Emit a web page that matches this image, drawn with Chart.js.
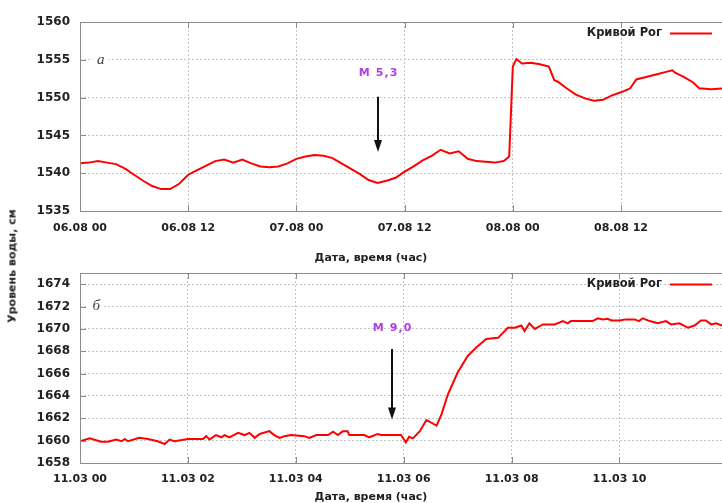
<!DOCTYPE html>
<html><head><meta charset="utf-8">
<script src="https://cdn.jsdelivr.net/npm/chart.js@4.4.1/dist/chart.umd.min.js"></script>
<style>
html,body{margin:0;padding:0;background:#fff;}
#wrap{position:relative;width:722px;height:503px;overflow:hidden;background:#fff;}
.cv{position:absolute;left:0;}
.t{position:absolute;font:bold 11px "DejaVu Sans",sans-serif;color:#222;white-space:nowrap;z-index:2;}
</style></head><body>
<div id="wrap">
<canvas id="a" class="cv" width="722" height="240" style="top:0"></canvas>
<canvas id="b" class="cv" width="722" height="263" style="top:240px"></canvas>
<div class="t" style="left:371px;top:257px;transform:translate(-50%,-50%)">Дата, время (час)</div>
<div class="t" style="left:371px;top:496px;transform:translate(-50%,-50%)">Дата, время (час)</div>
<div class="t" style="left:12px;top:266px;transform:translate(-50%,-50%) rotate(-90deg)">Уровень воды, см</div>
</div>
<script>
// ---- data ----
const seriesName = 'Кривой Рог';

// panel а: hours since 06.08 00
const topHours = [0,1,2,3,4,5,6,7,8,9,10,11,12,13,14,15,16,17,18,19,20,21,22,23,24,25,26,27,28,29,30,31,32,33,34,35,36,37,38,39,40,41,42,43,44,45,46,47,47.6,48.0,48.4,49,50,51,52,52.6,53,54,55,56,57,58,59,60,61,61.7,62,63,64,65,65.7,66,67,68,68.7,69,70,71.2];
const topLevels = [1541.3,1541.4,1541.6,1541.4,1541.2,1540.6,1539.8,1539.0,1538.3,1537.9,1537.9,1538.6,1539.8,1540.4,1541.0,1541.6,1541.8,1541.4,1541.8,1541.3,1540.9,1540.8,1540.9,1541.3,1541.9,1542.2,1542.4,1542.3,1542.0,1541.3,1540.6,1539.9,1539.1,1538.7,1539.0,1539.4,1540.2,1540.9,1541.7,1542.3,1543.1,1542.6,1542.9,1541.9,1541.6,1541.5,1541.4,1541.6,1542.2,1554.1,1555.1,1554.5,1554.6,1554.4,1554.1,1552.3,1552.1,1551.2,1550.4,1549.9,1549.6,1549.7,1550.3,1550.7,1551.2,1552.4,1552.5,1552.8,1553.1,1553.4,1553.6,1553.3,1552.7,1552.0,1551.2,1551.2,1551.1,1551.2];
const topTickHours = [0,12,24,36,48,60];
const topTickLabels = ['06.08 00','06.08 12','07.08 00','07.08 12','08.08 00','08.08 12'];
const topYTicks = [1535,1540,1545,1550,1555,1560];

// panel б: hours since 11.03 00
const bottomHours = [0,0.18,0.39,0.52,0.67,0.77,0.83,0.89,1.1,1.26,1.44,1.57,1.66,1.75,2.0,2.28,2.34,2.4,2.52,2.62,2.68,2.77,2.93,3.05,3.14,3.24,3.33,3.51,3.6,3.7,3.79,3.91,4.16,4.25,4.38,4.6,4.69,4.78,4.87,4.96,4.99,5.27,5.36,5.52,5.58,5.95,6.04,6.1,6.17,6.3,6.42,6.61,6.7,6.82,7.0,7.19,7.35,7.53,7.75,7.93,8.06,8.18,8.24,8.33,8.43,8.58,8.8,8.95,9.04,9.1,9.5,9.6,9.69,9.78,9.85,10.0,10.12,10.28,10.36,10.43,10.56,10.71,10.86,10.96,11.11,11.27,11.39,11.51,11.6,11.7,11.79,11.9];
const bottomLevels = [1659.95,1660.2,1659.9,1659.9,1660.1,1659.95,1660.15,1659.95,1660.25,1660.15,1659.95,1659.7,1660.1,1659.95,1660.15,1660.15,1660.4,1660.1,1660.5,1660.3,1660.5,1660.3,1660.7,1660.5,1660.7,1660.25,1660.6,1660.85,1660.5,1660.25,1660.4,1660.5,1660.4,1660.25,1660.5,1660.5,1660.8,1660.5,1660.85,1660.85,1660.5,1660.5,1660.3,1660.6,1660.5,1660.5,1659.85,1660.35,1660.2,1660.85,1661.85,1661.35,1662.35,1664.15,1666.1,1667.6,1668.35,1669.1,1669.2,1670.1,1670.1,1670.3,1669.8,1670.5,1670.0,1670.4,1670.4,1670.7,1670.5,1670.7,1670.7,1670.95,1670.85,1670.9,1670.75,1670.75,1670.85,1670.85,1670.7,1670.95,1670.7,1670.5,1670.7,1670.4,1670.5,1670.1,1670.3,1670.75,1670.75,1670.4,1670.5,1670.3];
const bottomTickHours = [0,2,4,6,8,10];
const bottomTickLabels = ['11.03 00','11.03 02','11.03 04','11.03 06','11.03 08','11.03 10'];
const bottomYTicks = [1658,1660,1662,1664,1666,1668,1670,1672,1674];

// earthquake marks (data units)
const quakeTop = {text:'M 5,3', hour:33.0, textLevel:1553.3, fromLevel:1550.1, toLevel:1542.8};
const quakeBottom = {text:'M 9,0', hour:5.78, textLevel:1670.05, fromLevel:1668.2, toLevel:1661.9};

// ---- drawing ----
Chart.defaults.font.family = '"DejaVu Sans", sans-serif';
Chart.defaults.font.size = 11;
Chart.defaults.font.weight = 'bold';
Chart.defaults.color = '#222';

const decor = {
  id: 'decor',
  afterDatasetsDraw(chart, args, o) {
    const {ctx, chartArea: a, scales: {x, y}} = chart;
    ctx.save();
    // letter
    ctx.font = 'italic 15px "Liberation Serif", serif';
    ctx.textBaseline = 'middle'; ctx.textAlign = 'center';
    const lx = x.getPixelForValue(o.letterHour), ly = y.getPixelForValue(o.letterLevel);
    ctx.fillStyle = '#fff'; ctx.fillRect(lx - 8, ly - 3, 16, 6);
    ctx.fillStyle = '#444'; ctx.fillText(o.letter, lx, ly);
    // quake label + arrow
    const q = o.quake;
    const qx = Math.round(x.getPixelForValue(q.hour));
    ctx.font = 'bold 11px "DejaVu Sans", sans-serif';
    ctx.fillStyle = '#b43ce6';
    ctx.fillText(q.text.split('').join(String.fromCharCode(8202)), qx, y.getPixelForValue(q.textLevel));
    const y1 = y.getPixelForValue(q.fromLevel), y2 = y.getPixelForValue(q.toLevel);
    ctx.strokeStyle = '#111'; ctx.lineWidth = 2; ctx.setLineDash([]);
    ctx.beginPath(); ctx.moveTo(qx, y1); ctx.lineTo(qx, y2 - 10); ctx.stroke();
    ctx.fillStyle = '#111';
    ctx.beginPath(); ctx.moveTo(qx - 4, y2 - 12); ctx.lineTo(qx + 4, y2 - 12); ctx.lineTo(qx, y2); ctx.closePath(); ctx.fill();
    // frame
    ctx.strokeStyle = '#8c8c8c'; ctx.lineWidth = 1;
    ctx.strokeRect(a.left + 0.5, a.top + 0.5, a.right - a.left + 2, a.bottom - a.top);
    ctx.beginPath();
    y.ticks.forEach(t => { const py = Math.round(y.getPixelForValue(t.value)) + 0.5; ctx.moveTo(a.left, py); ctx.lineTo(a.left + 6, py); });
    x.ticks.forEach(t => { const px = Math.round(x.getPixelForValue(t.value)) + 0.5; ctx.moveTo(px, a.bottom); ctx.lineTo(px, a.bottom - 6); ctx.moveTo(px, a.top); ctx.lineTo(px, a.top + 6); });
    ctx.stroke();
    // legend
    const ds = chart.data.datasets[0];
    const gy = a.top + 11.5;
    ctx.font = 'bold 11.5px "DejaVu Sans", sans-serif';
    ctx.fillStyle = '#222'; ctx.textAlign = 'right'; ctx.textBaseline = 'middle';
    ctx.fillText(ds.label, a.right - 60, gy);
    ctx.strokeStyle = ds.borderColor; ctx.lineWidth = 2;
    ctx.beginPath(); ctx.moveTo(a.right - 52, gy); ctx.lineTo(a.right - 10, gy); ctx.stroke();
    ctx.restore();
  }
};

function makeChart(id, hours, levels, xMax, tickHours, tickLabels, yMin, yMax, yTicks, padTop, xH, labPad, deco) {
  return new Chart(document.getElementById(id), {
    type: 'line',
    data: { datasets: [{
      label: seriesName,
      data: hours.map((h, i) => ({x: h, y: levels[i]})),
      borderColor: '#ff0000', borderWidth: 2, pointRadius: 0, tension: 0, fill: false
    }]},
    options: {
      responsive: false, animation: false,
      layout: { padding: { top: padTop, left: 0, right: 0, bottom: 0 } },
      plugins: { legend: { display: false }, tooltip: { enabled: false }, decor: deco },
      scales: {
        x: {
          type: 'linear', min: 0, max: xMax,
          afterBuildTicks: s => { s.ticks = tickHours.map(v => ({value: v})); },
          afterFit: s => { s.height = xH; },
          ticks: { autoSkip: false, maxRotation: 0, padding: labPad, color: '#222',
                   callback: (v, i) => tickLabels[tickHours.indexOf(v)] },
          grid: { color: '#c4c4c4', drawTicks: false },
          border: { display: false, dash: [2, 2] }
        },
        y: {
          min: yMin, max: yMax,
          afterBuildTicks: s => { s.ticks = yTicks.map(v => ({value: v})); },
          afterFit: s => { s.width = 80; },
          ticks: { padding: 10, color: '#222', font: { size: 12, weight: 'bold' }, callback: v => String(v) },
          grid: { color: '#c4c4c4', drawTicks: false },
          border: { display: false, dash: [2, 2] }
        }
      }
    },
    plugins: [decor]
  });
}

makeChart('a', topHours, topLevels, 71.2, topTickHours, topTickLabels, 1535, 1560, topYTicks, 22, 29, 11,
  {letter: 'а', letterHour: 2.3, letterLevel: 1555, quake: quakeTop});
makeChart('b', bottomHours, bottomLevels, 11.9, bottomTickHours, bottomTickLabels, 1658, 1675, bottomYTicks, 33, 40, 10,
  {letter: 'б', letterHour: 0.3, letterLevel: 1672, quake: quakeBottom});
</script>
</body></html>
